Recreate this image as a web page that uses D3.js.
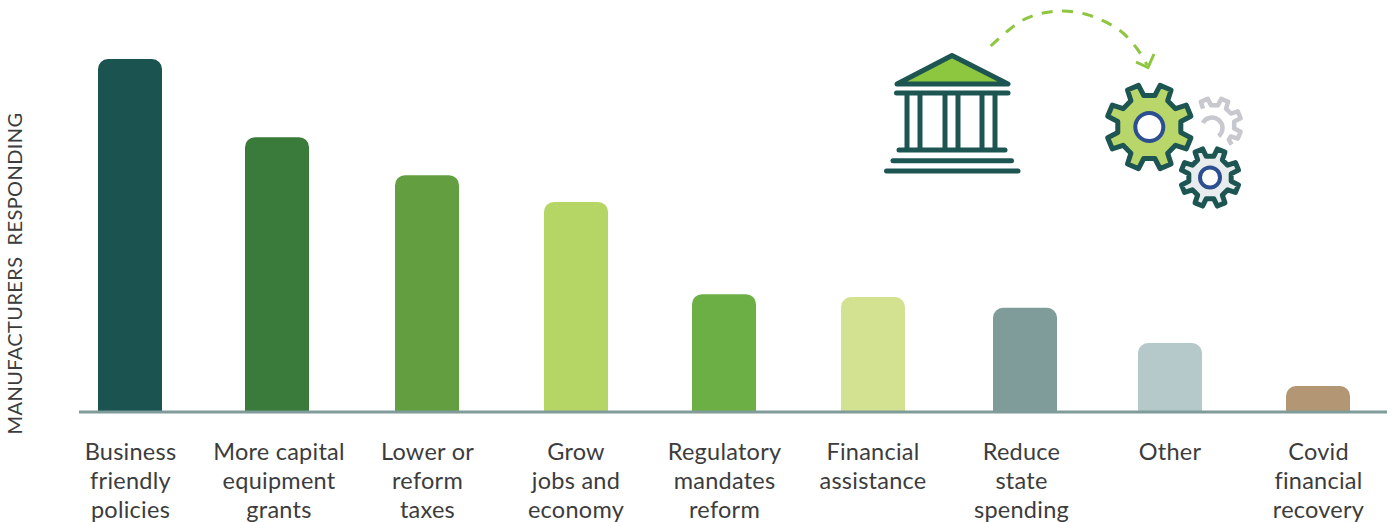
<!DOCTYPE html>
<html><head><meta charset="utf-8">
<script src="https://cdn.jsdelivr.net/npm/d3@7/dist/d3.min.js"></script>
<style>html,body{margin:0;padding:0;background:#fff}svg{display:block}</style>
</head><body><svg id="c" width="1392" height="522"></svg>
<script>
const categories = ["Business friendly policies","More capital equipment grants","Lower or reform taxes","Grow jobs and economy","Regulatory mandates reform","Financial assistance","Reduce state spending","Other","Covid financial recovery"];
const tickLines = [["Business","friendly","policies"],["More capital","equipment","grants"],["Lower or","reform","taxes"],["Grow","jobs and","economy"],["Regulatory","mandates","reform"],["Financial","assistance"],["Reduce","state","spending"],["Other"],["Covid","financial","recovery"]];
const values = [100,77.8,67,59.4,33.2,32.4,29.3,19.3,7.1];
const barColors = ["#1a5350","#3a7a3a","#639e41","#b5d564","#6cb045","#d3e291","#7f9c9a","#b5c9ca","#b39673"];
const yTitle = "MANUFACTURERS  RESPONDING";

const FONT = "Lato, sans-serif";
const svg = d3.select("#c");
const baseY = 411, topY = 59, barW = 64, rad = 10;
const x = d3.scalePoint().domain(categories).range([130,1318]);
const y = d3.scaleLinear().domain([0,100]).range([baseY,topY]);
const nudge = {"More capital equipment grants":-1.5,"Grow jobs and economy":0.5,"Financial assistance":0.5,"Reduce state spending":4,"Other":0.5};

svg.append("g").selectAll("path").data(categories).join("path")
  .attr("fill",(d,i)=>barColors[i])
  .attr("d",(d,i)=>{
    const p=d3.path(), l=x(d)+(nudge[d]||0)-barW/2, r=l+barW, t=y(values[i]);
    p.moveTo(l,baseY); p.lineTo(l,t+rad); p.arcTo(l,t,l+rad,t,rad);
    p.lineTo(r-rad,t); p.arcTo(r,t,r,t+rad,rad); p.lineTo(r,baseY); p.closePath();
    return p.toString();
  });

svg.append("line").attr("x1",79).attr("x2",1387).attr("y1",412).attr("y2",412)
  .attr("stroke","#7f9c9a").attr("stroke-width",3);

const axis = svg.append("g").attr("transform","translate(0,437)")
  .call(d3.axisBottom(x).tickSize(0).tickPadding(0));
axis.select(".domain").remove();
axis.selectAll(".tick text").each(function(d,i){
  const t=d3.select(this).text(null).attr("y",null).attr("dy",null)
    .attr("text-anchor","middle").attr("font-family",FONT).attr("font-size",23.5).attr("letter-spacing",0.25).attr("fill","#3c3c3c");
  tickLines[i].forEach((s,j)=>t.append("tspan").attr("x",0).attr("y",23+j*29).text(s));
});

svg.append("text").attr("transform","translate(22,273.5) rotate(-90)").attr("text-anchor","middle")
  .attr("font-family",FONT).attr("font-size",20).attr("letter-spacing",0.4).attr("fill","#3c3c3c")
  .style("white-space","pre").text(yTitle);

/* icon: bank */
const dark="#1c5552", lime="#8dc63f";
const icon=svg.append("g");
icon.append("path").attr("d","M897,84L952,55.5L1008,84Z").attr("fill",lime).attr("stroke",dark)
  .attr("stroke-width",5).attr("stroke-linejoin","round");
const hl=[[896.5,1008,93],[899,1005,150],[893,1011.5,160.7],[886.5,1018,171]];
icon.selectAll(".h").data(hl).join("line").attr("x1",d=>d[0]).attr("x2",d=>d[1]).attr("y1",d=>d[2]).attr("y2",d=>d[2])
  .attr("stroke",dark).attr("stroke-width",5).attr("stroke-linecap","round");
icon.selectAll(".v").data([907,920,945,958,982,995]).join("line").attr("x1",d=>d).attr("x2",d=>d).attr("y1",93).attr("y2",150)
  .attr("stroke",dark).attr("stroke-width",5);

/* icon: arrow */
const arc=[[990.7,46],[1006.7,31.7],[1023,20],[1043,13],[1063,11],[1085,14],[1105,21.7],[1123,33],[1138,50],[1147,65]];
icon.append("path").attr("d",d3.line().curve(d3.curveCatmullRom)(arc)).attr("fill","none")
  .attr("stroke",lime).attr("stroke-width",3).attr("stroke-dasharray","11 9.5");
icon.append("path").attr("d","M1136,62L1148,67.5L1154,54").attr("fill","none").attr("stroke",lime).attr("stroke-width",3);

/* icon: gears */
function teeth(cx,cy,tip,root,list){
  const ht=8*Math.PI/180, hr=12.5*Math.PI/180, pts=[];
  list.forEach(t=>{
    [[root,t-hr],[tip,t-ht],[tip,t+ht],[root,t+hr]].forEach(([r,q])=>pts.push([cx+r*Math.cos(q),cy+r*Math.sin(q)]));
  });
  return pts;
}
function gear(cx,cy,tip,root){
  const list=d3.range(8).map(i=>(i+0.5)*Math.PI/4);
  return "M"+teeth(cx,cy,tip,root,list).map(p=>p.join(",")).join("L")+"Z";
}
const gx=1214.5, gy=125;
const grayPts=teeth(gx,gy,27,20,[247.5,292.5,337.5,382.5].map(a=>a*Math.PI/180));
grayPts.push([gx+20.5*Math.cos(0.8),gy+20.5*Math.sin(0.8)],[gx+26*Math.cos(0.85),gy+26*Math.sin(0.85)]);
icon.append("path").attr("d","M"+grayPts.map(p=>p.join(",")).join("L")).attr("fill","none").attr("stroke","#c8c9ce").attr("stroke-width",4.5).attr("stroke-linejoin","round");
icon.append("path").attr("transform","translate(1212,128)")
  .attr("d",d3.arc().innerRadius(10.5).outerRadius(10.5)({startAngle:-1.06,endAngle:2.46})).attr("fill","none").attr("stroke","#c8c9ce").attr("stroke-width",4.5);
function drawGear(cx,cy,tip,root,fill,hub){
  const d=gear(cx,cy,tip,root);
  icon.append("path").attr("d",d).attr("fill","#fff").attr("stroke","#fff").attr("stroke-width",9).attr("stroke-linejoin","round");
  icon.append("path").attr("d",d).attr("fill",fill).attr("stroke",dark).attr("stroke-width",5).attr("stroke-linejoin","round");
  icon.append("circle").attr("cx",cx).attr("cy",cy).attr("r",hub).attr("fill","#fff").attr("stroke","#2c4f8f").attr("stroke-width",4);
}
drawGear(1149.3,127,43,32,"#b9d66b",14);
drawGear(1210,177.5,29.5,21.5,"#e9eced",10);
</script></body></html>
